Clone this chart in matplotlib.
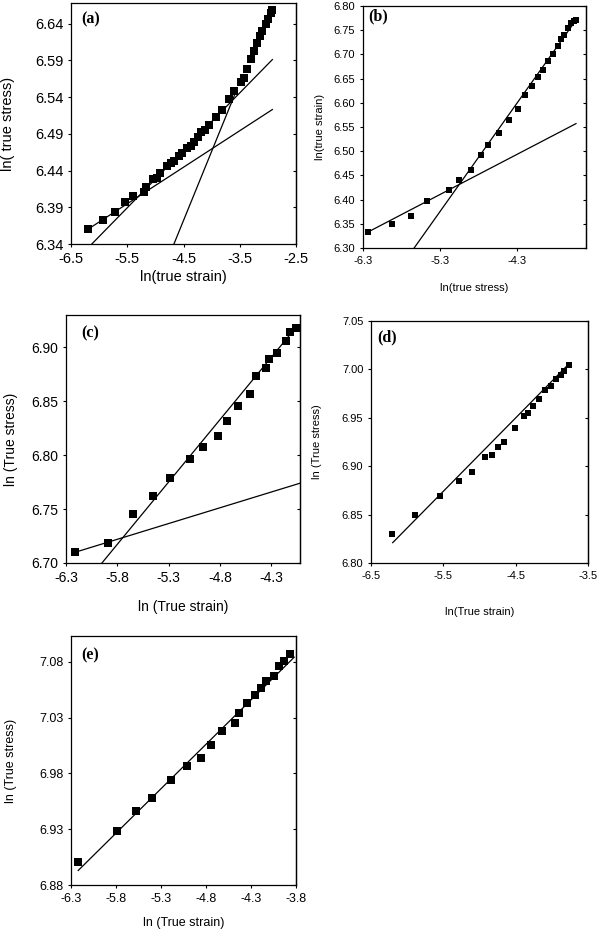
import matplotlib
matplotlib.use("Agg")
import matplotlib.pyplot as plt
from matplotlib.ticker import FixedLocator, FixedFormatter

# ---------------- data ----------------
# (a)
a_x = [-6.20, -5.94, -5.72, -5.54, -5.39, -5.21, -5.16, -5.05, -4.98, -4.91,
       -4.80, -4.72, -4.67, -4.58, -4.52, -4.44, -4.37, -4.31, -4.25, -4.19,
       -4.12, -4.04, -3.93, -3.81, -3.69, -3.60, -3.47, -3.43, -3.38, -3.30,
       -3.25, -3.19, -3.14, -3.10, -3.04, -3.00, -2.95, -2.92]
a_y = [6.360, 6.373, 6.384, 6.397, 6.406, 6.411, 6.418, 6.428, 6.430, 6.436,
       6.446, 6.450, 6.453, 6.460, 6.464, 6.470, 6.473, 6.479, 6.485, 6.492,
       6.495, 6.502, 6.513, 6.523, 6.538, 6.548, 6.560, 6.566, 6.578, 6.592,
       6.602, 6.614, 6.623, 6.630, 6.639, 6.646, 6.654, 6.659]
a_fit1_x = [-6.20, -2.92]
a_fit1_y = [6.360, 6.523]
a_fit2_x = [-6.13, -2.92]
a_fit2_y = [6.340, 6.591]
a_fit3_x = [-4.67, -3.58]
a_fit3_y = [6.340, 6.545]

# (b)
b_x = [-6.235, -5.92, -5.68, -5.47, -5.18, -5.05, -4.89, -4.76, -4.68, -4.53,
       -4.40, -4.29, -4.19, -4.10, -4.03, -3.96, -3.90, -3.83, -3.77, -3.72,
       -3.68, -3.63, -3.59, -3.55, -3.53]
b_y = [6.333, 6.349, 6.366, 6.397, 6.420, 6.441, 6.462, 6.492, 6.512, 6.537,
       6.565, 6.588, 6.617, 6.635, 6.653, 6.668, 6.687, 6.701, 6.717, 6.731,
       6.741, 6.755, 6.765, 6.770, 6.771]
b_fit1_x = [-6.235, -3.53]
b_fit1_y = [6.333, 6.557]
b_fit2_x = [-5.635, -3.53]
b_fit2_y = [6.300, 6.771]

# (c)
c_x = [-6.21, -5.89, -5.65, -5.45, -5.29, -5.09, -4.97, -4.82, -4.73, -4.62,
       -4.51, -4.45, -4.35, -4.32, -4.24, -4.16, -4.12, -4.06]
c_y = [6.710, 6.719, 6.745, 6.762, 6.779, 6.796, 6.808, 6.818, 6.832, 6.846,
       6.857, 6.873, 6.881, 6.889, 6.895, 6.906, 6.914, 6.918]
c_fit1_x = [-6.21, -4.02]
c_fit1_y = [6.710, 6.774]
c_fit2_x = [-5.95, -4.09]
c_fit2_y = [6.700, 6.915]

# (d)
d_x = [-6.215, -5.89, -5.55, -5.29, -5.10, -4.92, -4.83, -4.74, -4.66, -4.51,
       -4.39, -4.33, -4.26, -4.18, -4.09, -4.01, -3.94, -3.87, -3.83, -3.76]
d_y = [6.830, 6.850, 6.869, 6.885, 6.894, 6.910, 6.912, 6.920, 6.925, 6.939,
       6.952, 6.955, 6.962, 6.969, 6.979, 6.983, 6.990, 6.994, 6.998, 7.005]
d_fit_x = [-6.20, -3.76]
d_fit_y = [6.821, 7.006]

# (e)
e_x = [-6.22, -5.79, -5.58, -5.40, -5.19, -5.01, -4.86, -4.74, -4.62, -4.48,
       -4.43, -4.35, -4.26, -4.19, -4.13, -4.04, -3.99, -3.93, -3.87]
e_y = [6.901, 6.928, 6.946, 6.958, 6.974, 6.987, 6.994, 7.005, 7.018, 7.025,
       7.034, 7.043, 7.050, 7.056, 7.063, 7.067, 7.076, 7.081, 7.087]
e_fit_x = [-6.22, -3.82]
e_fit_y = [6.893, 7.084]

# ticks
a_xticks = [-6.5, -5.5, -4.5, -3.5, -2.5]
a_yticks = [6.34, 6.39, 6.44, 6.49, 6.54, 6.59, 6.64]
b_xticks = [-6.3, -5.3, -4.3]
b_yticks = [6.30, 6.35, 6.40, 6.45, 6.50, 6.55, 6.60, 6.65, 6.70, 6.75, 6.80]
c_xticks = [-6.3, -5.8, -5.3, -4.8, -4.3]
c_yticks = [6.70, 6.75, 6.80, 6.85, 6.90]
d_xticks = [-6.5, -5.5, -4.5, -3.5]
d_yticks = [6.80, 6.85, 6.90, 6.95, 7.00, 7.05]
e_xticks = [-6.3, -5.8, -5.3, -4.8, -4.3, -3.8]
e_yticks = [6.88, 6.93, 6.98, 7.03, 7.08]

fig = plt.figure(figsize=(6.0, 9.33), dpi=100)
sans = ["Liberation Sans", "DejaVu Sans"]
serif = ["Liberation Serif", "DejaVu Serif"]


def setup(ax, xlim, ylim, xt, yt, fs, xlabel, ylabel, xlc, ylc, panel, pxy, pfs):
    ax.set_xlim(*xlim)
    ax.set_ylim(*ylim)
    ax.xaxis.set_major_locator(FixedLocator(xt))
    ax.xaxis.set_major_formatter(FixedFormatter([f"{v:.1f}" for v in xt]))
    ax.yaxis.set_major_locator(FixedLocator(yt))
    ax.yaxis.set_major_formatter(FixedFormatter([f"{v:.2f}" for v in yt]))
    ax.tick_params(axis="both", direction="out", length=2.5, width=0.8,
                   labelsize=fs, pad=3)
    for lab in ax.get_xticklabels() + ax.get_yticklabels():
        lab.set_family(sans)
    for s in ax.spines.values():
        s.set_linewidth(0.9)
    ax.set_xlabel(xlabel, fontsize=fs, family=sans, va="center")
    ax.set_ylabel(ylabel, fontsize=fs, family=sans, va="center")
    ax.xaxis.set_label_coords(0.5, xlc)
    ax.yaxis.set_label_coords(ylc, 0.5)
    sec = ax.secondary_yaxis("right")
    sec.yaxis.set_major_locator(FixedLocator(yt))
    sec.tick_params(direction="in", length=2.5, width=0.8, labelright=False)
    sec.spines["right"].set_linewidth(0.9)
    ax.text(pxy[0], pxy[1], panel, transform=ax.transAxes, ha="left", va="center",
            fontsize=pfs, fontweight="bold", family=serif)


def plot_pts(ax, x, y, ms=5.4):
    ax.plot(x, y, linestyle="none", marker="s", markersize=ms, color="black",
            markeredgewidth=0, zorder=3)


def line(ax, x, y):
    ax.plot(x, y, color="black", linewidth=0.9, zorder=2)


W, H = 600.0, 933.0


def rect(l, r, t, b):
    return [l / W, 1 - b / H, (r - l) / W, (b - t) / H]


# (a)
ax = fig.add_axes(rect(71, 296, 3, 244))
line(ax, a_fit1_x, a_fit1_y)
line(ax, a_fit2_x, a_fit2_y)
line(ax, a_fit3_x, a_fit3_y)
plot_pts(ax, a_x, a_y)
setup(ax, (-6.5, -2.5), (6.34, 6.668), a_xticks, a_yticks, 10.5,
      "ln(true strain)", "ln( true stress)", -0.137, -0.282, "(a)", (0.044, 0.93), 11.5)

# (b)
ax = fig.add_axes(rect(363, 586, 6, 248))
line(ax, b_fit1_x, b_fit1_y)
line(ax, b_fit2_x, b_fit2_y)
plot_pts(ax, b_x, b_y, 5.0)
setup(ax, (-6.3, -3.4), (6.30, 6.80), b_xticks, b_yticks, 8,
      "ln(true stress)", "ln(true strain)", -0.165, -0.193, "(b)", (0.022, 0.959), 11.5)

# (c)
ax = fig.add_axes(rect(66, 300, 315, 563))
line(ax, c_fit1_x, c_fit1_y)
line(ax, c_fit2_x, c_fit2_y)
plot_pts(ax, c_x, c_y)
setup(ax, (-6.3, -4.02), (6.70, 6.93), c_xticks, c_yticks, 10,
      "ln (True strain)", "ln (True stress)", -0.177, -0.235, "(c)", (0.064, 0.927), 11.5)

# (d)
ax = fig.add_axes(rect(371, 588, 321, 563))
line(ax, d_fit_x, d_fit_y)
plot_pts(ax, d_x, d_y, 5.0)
setup(ax, (-6.5, -3.5), (6.80, 7.05), d_xticks, d_yticks, 8,
      "ln(True strain)", "ln (True stress)", -0.202, -0.249, "(d)", (0.028, 0.934), 11.5)

# (e)
ax = fig.add_axes(rect(71, 296, 636, 885))
line(ax, e_fit_x, e_fit_y)
plot_pts(ax, e_x, e_y)
setup(ax, (-6.3, -3.8), (6.88, 7.103), e_xticks, e_yticks, 9,
      "ln (True strain)", "ln (True stress)", -0.153, -0.268, "(e)", (0.044, 0.924), 11.5)

fig.savefig("out.png", dpi=100, facecolor="white")
